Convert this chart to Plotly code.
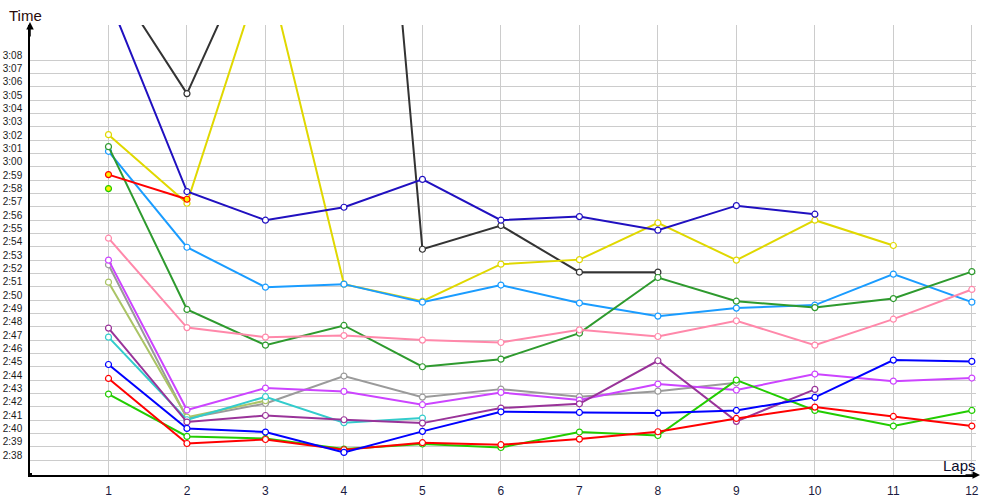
import plotly.graph_objects as go

laps = list(range(1, 13))

# Lap times in seconds (None = no lap recorded)
dark_blue = [192.7, 178.15, 176.0, 176.97, 179.06, 176.0, 176.27, 175.25, 177.09, 176.45, None, None]
dark_gray = [194.6, 185.5, 198.5, 240.0, 173.82, 175.6, 172.1, 172.1, None, None, None, None]
yellow = [182.42, 177.27, 195.5, 171.2, 169.92, 172.7, 173.04, 175.8, 173.0, 176.0, 174.1, None]
red_short = [179.42, 177.57, None, None, None, None, None, None, None, None, None, None]
green_single = [178.37, None, None, None, None, None, None, None, None, None, None, None]
light_blue = [181.17, 173.97, 170.97, 171.2, 169.85, 171.13, 169.78, 168.8, 169.4, 169.63, 171.95, 169.85]
dark_green = [181.52, 169.3, 166.62, 168.1, 165.0, 165.57, 167.52, 171.7, 169.92, 169.44, 170.12, 172.14]
pink = [174.65, 167.94, 167.22, 167.34, 167.0, 166.82, 167.77, 167.27, 168.45, 166.62, 168.57, 170.8]
violet = [173.0, 161.75, 163.4, 163.15, 162.15, 163.07, 162.5, 163.7, 163.25, 164.45, 163.92, 164.15]
gray = [172.65, 161.12, 162.24, 164.3, 162.72, 163.32, 162.75, 163.17, 163.8, None, None, None]
olive = [171.35, 161.22, 162.45, None, None, None, None, None, None, None, None, None]
plum = [167.9, 160.85, 161.34, 161.02, 160.77, 161.9, 162.22, 165.45, 160.9, 163.3, None, None]
cyan = [167.22, 161.02, 162.75, 160.8, 161.15, None, None, None, None, None, None, None]
blue = [165.17, 160.37, 160.1, 158.57, 160.15, 161.62, 161.57, 161.52, 161.72, 162.7, 165.5, 165.4]
red = [164.12, 159.24, 159.54, 158.77, 159.3, 159.15, 159.57, 160.12, 161.12, 161.97, 161.27, 160.55]
green = [162.95, 159.77, 159.62, 158.82, 159.2, 158.94, 160.1, 159.84, 164.0, 161.72, 160.55, 161.72]

y_tick_vals = list(range(158, 189))
y_tick_text = [f"{v // 60}:{v % 60:02d}" for v in y_tick_vals]

series = [
    (dark_gray, "#333333", "white"),
    (yellow, "#e0d800", "white"),
    (light_blue, "#1a9cff", "white"),
    (dark_green, "#2e9a2e", "white"),
    (pink, "#ff88aa", "white"),
    (gray, "#9a9a9a", "white"),
    (olive, "#aac466", "white"),
    (cyan, "#33cccc", "white"),
    (violet, "#cc44ff", "white"),
    (plum, "#993399", "white"),
    (green, "#22cc00", "white"),
    (red, "#ff0000", "white"),
    (blue, "#0000ff", "white"),
    (dark_blue, "#2010c0", "white"),
    (red_short, "#ff0000", "#ffee00"),
    (green_single, "#22cc00", "#ffee00"),
]

fig = go.Figure()
for vals, col, fill in series:
    fig.add_trace(go.Scatter(
        x=laps, y=vals, mode="lines+markers",
        line=dict(color=col, width=2),
        marker=dict(symbol="circle", size=6, color=fill, line=dict(color=col, width=1.2)),
        connectgaps=False, showlegend=False, hoverinfo="skip",
    ))

fig.update_layout(
    width=1000, height=500,
    margin=dict(l=30, r=24, t=25, b=25, autoexpand=False),
    paper_bgcolor="white", plot_bgcolor="white",
    font=dict(family="Liberation Sans, Arial, sans-serif", color="#1a1a1a"),
    xaxis=dict(
        range=[0, 12.053], tickvals=laps, ticktext=[str(v) for v in laps],
        showgrid=True, gridcolor="#cccccc", gridwidth=1,
        showline=True, linecolor="black", linewidth=1.5,
        zeroline=False, ticks="", tickfont=dict(size=12, color="#1a1a40"),
        automargin=False, ticklabelstandoff=4,
    ),
    yaxis=dict(
        range=[156.875, 190.65], tickvals=y_tick_vals, ticktext=y_tick_text,
        showgrid=True, gridcolor="#cccccc", gridwidth=1,
        showline=True, linecolor="black", linewidth=1.5,
        zeroline=False, ticks="", tickfont=dict(size=10, color="#1a1a1a"),
        ticklabelshift=-5, ticklabelstandoff=4, automargin=False,
    ),
    annotations=[
        dict(xref="paper", yref="paper", x=0, y=1.0 + 3 / 450, ax=0, ay=16,
             showarrow=True, arrowhead=2, arrowsize=1, arrowwidth=1.5, arrowcolor="black", text=""),
        dict(xref="paper", yref="paper", x=1.0 + 4 / 946, y=0, ax=-16, ay=0,
             showarrow=True, arrowhead=2, arrowsize=1, arrowwidth=1.5, arrowcolor="black", text=""),
        dict(xref="paper", yref="paper", x=-5 / 946, y=1 + 10 / 450, text="Time", showarrow=False,
             font=dict(size=15, color="#2a0a0a"), xanchor="center", yanchor="middle"),
        dict(xref="paper", yref="paper", x=(959 - 30) / 946, y=10 / 450, text="Laps", showarrow=False,
             font=dict(size=15, color="#0a0a2a"), xanchor="center", yanchor="middle"),
    ],
    shapes=[
        dict(type="rect", xref="paper", yref="paper", x0=-2 / 946, x1=2 / 946, y0=-2 / 450, y1=2 / 450,
             fillcolor="black", line=dict(width=0)),
    ],
)

fig.write_html("out.html")
